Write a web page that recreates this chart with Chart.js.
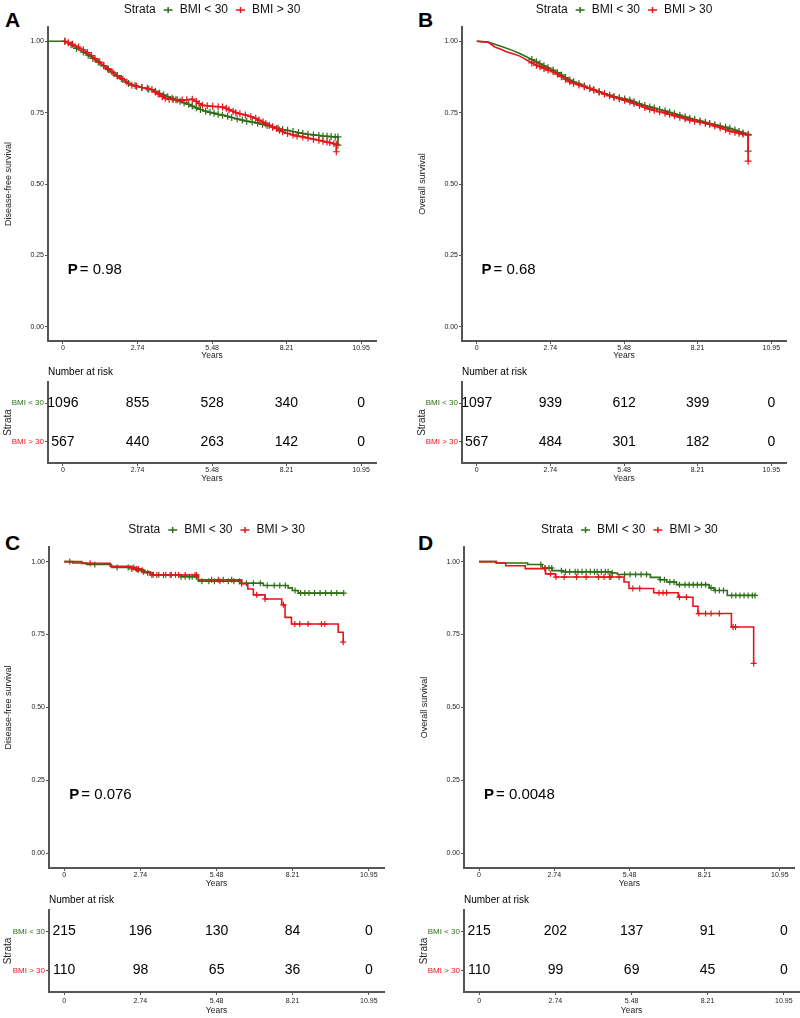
<!DOCTYPE html>
<html>
<head>
<meta charset="utf-8">
<script src="https://cdn.jsdelivr.net/npm/chart.js@4.4.1/dist/chart.umd.min.js"></script>
<style>
  body { margin: 0; background: #fff; width: 800px; height: 1018px; position: relative; overflow: hidden;
         font-family: 'Liberation Sans', Arial, Helvetica, sans-serif; }
  canvas { position: absolute; }
  .letter { position: absolute; font-weight: bold; font-size: 21px; line-height: 21px; color: #000; }
</style>
</head>
<body>
<div class="letter" style="left:5px;top:9px">A</div>
<div class="letter" style="left:418px;top:9px">B</div>
<div class="letter" style="left:5px;top:532px">C</div>
<div class="letter" style="left:418px;top:532px">D</div>
<script>
// ---- data ----
const xTicks = [0, 2.74, 5.48, 8.21, 10.95];
const xTickLabels = ['0', '2.74', '5.48', '8.21', '10.95'];
const yTicks = [0, 0.25, 0.5, 0.75, 1];
const yTickLabels = ['0.00', '0.25', '0.50', '0.75', '1.00'];
const strata = ['BMI < 30', 'BMI > 30'];
const yTitles = ['Disease-free survival', 'Overall survival', 'Disease-free survival', 'Overall survival'];
const pValues = ['0.98', '0.68', '0.076', '0.0048'];

// A: disease-free survival, whole cohort
const curveA_lo = [[-0.55,1.0],[0.07,1.0],[0.3,0.988],[0.5,0.975],[0.75,0.962],[0.93,0.951],[1.1,0.94],[1.3,0.927],[1.5,0.914],[1.67,0.901],[1.85,0.889],[2.0,0.878],[2.2,0.866],[2.41,0.852],[2.65,0.845],[2.9,0.838],[3.15,0.832],[3.39,0.825],[3.55,0.818],[3.7,0.812],[3.85,0.806],[4.01,0.80],[4.15,0.795],[4.3,0.79],[4.45,0.785],[4.62,0.779],[4.75,0.773],[4.9,0.767],[5.05,0.761],[5.24,0.755],[5.4,0.751],[5.55,0.748],[5.7,0.744],[5.86,0.741],[6.05,0.737],[6.2,0.733],[6.4,0.728],[6.59,0.724],[6.75,0.72],[6.95,0.717],[7.15,0.713],[7.33,0.709],[7.5,0.705],[7.7,0.70],[7.9,0.695],[8.07,0.691],[8.25,0.688],[8.45,0.684],[8.65,0.68],[8.81,0.677],[9.0,0.674],[9.2,0.672],[9.4,0.67],[9.55,0.668],[9.7,0.667],[9.85,0.666],[10.0,0.665],[10.1,0.665],[10.1,0.636]];
const curveA_hi = [[0.07,1.0],[0.2,0.995],[0.35,0.99],[0.57,0.98],[0.75,0.97],[0.9,0.96],[1.05,0.95],[1.18,0.939],[1.35,0.927],[1.5,0.915],[1.65,0.904],[1.8,0.893],[2.0,0.88],[2.15,0.87],[2.35,0.857],[2.53,0.846],[2.7,0.842],[2.9,0.838],[3.1,0.835],[3.27,0.831],[3.4,0.822],[3.5,0.815],[3.65,0.806],[3.76,0.80],[3.9,0.797],[4.05,0.796],[4.2,0.795],[4.38,0.794],[4.55,0.795],[4.75,0.797],[4.9,0.789],[5.0,0.782],[5.12,0.776],[5.3,0.774],[5.5,0.772],[5.7,0.771],[5.86,0.770],[6.0,0.765],[6.1,0.76],[6.25,0.755],[6.35,0.75],[6.5,0.746],[6.7,0.742],[6.9,0.736],[7.08,0.73],[7.2,0.724],[7.35,0.717],[7.45,0.711],[7.58,0.706],[7.7,0.70],[7.85,0.694],[7.95,0.688],[8.07,0.683],[8.25,0.677],[8.45,0.672],[8.6,0.668],[8.81,0.665],[9.0,0.661],[9.2,0.657],[9.4,0.653],[9.55,0.65],[9.7,0.647],[9.8,0.645],[9.95,0.641],[10.04,0.639],[10.04,0.613]];

// B: overall survival, whole cohort
const curveB_lo = [[0,1.0],[0.42,0.997],[0.7,0.989],[0.98,0.98],[1.3,0.969],[1.6,0.957],[1.9,0.943],[2.05,0.936],[2.22,0.928],[2.35,0.921],[2.5,0.914],[2.65,0.907],[2.84,0.899],[3.0,0.89],[3.15,0.882],[3.3,0.873],[3.46,0.864],[3.6,0.858],[3.8,0.851],[4.0,0.843],[4.2,0.835],[4.35,0.83],[4.55,0.823],[4.75,0.817],[4.94,0.811],[5.1,0.806],[5.3,0.802],[5.5,0.798],[5.69,0.794],[5.85,0.788],[6.05,0.781],[6.25,0.775],[6.43,0.77],[6.6,0.766],[6.8,0.761],[7.0,0.756],[7.17,0.751],[7.35,0.746],[7.55,0.741],[7.75,0.735],[7.92,0.73],[8.1,0.726],[8.3,0.721],[8.5,0.716],[8.66,0.712],[8.85,0.708],[9.05,0.703],[9.25,0.699],[9.41,0.695],[9.6,0.689],[9.75,0.684],[9.9,0.679],[10.09,0.674],[10.09,0.615]];
const curveB_hi = [[0,1.0],[0.42,0.997],[0.67,0.98],[0.9,0.972],[1.1,0.963],[1.35,0.956],[1.6,0.948],[1.75,0.94],[1.9,0.932],[2.05,0.924],[2.22,0.916],[2.35,0.911],[2.5,0.905],[2.65,0.899],[2.84,0.893],[3.0,0.885],[3.15,0.876],[3.3,0.867],[3.46,0.858],[3.6,0.853],[3.8,0.847],[4.0,0.841],[4.2,0.835],[4.35,0.829],[4.55,0.822],[4.75,0.815],[4.94,0.809],[5.1,0.804],[5.3,0.799],[5.5,0.793],[5.69,0.788],[5.85,0.782],[6.05,0.775],[6.25,0.768],[6.43,0.762],[6.6,0.758],[6.8,0.753],[7.0,0.749],[7.17,0.744],[7.35,0.739],[7.55,0.734],[7.75,0.729],[7.92,0.724],[8.1,0.72],[8.3,0.717],[8.5,0.713],[8.66,0.709],[8.85,0.703],[9.05,0.697],[9.25,0.691],[9.41,0.685],[9.6,0.681],[9.75,0.678],[9.9,0.675],[10.09,0.671],[10.09,0.58]];

// C: disease-free survival, subgroup (step curves + censor times)
const curveC_lo = [[0,1.0],[0.3,0.995],[0.8,0.99],[1.7,0.98],[2.6,0.97],[2.9,0.962],[3.2,0.955],[4.2,0.948],[4.82,0.933],[6.32,0.926],[7.16,0.918],[8.05,0.91],[8.2,0.901],[8.41,0.892],[10.05,0.892]];
const curveC_hi = [[0,1.0],[0.63,0.994],[1.65,0.984],[2.43,0.975],[2.8,0.965],[3.09,0.954],[4.82,0.938],[6.38,0.924],[6.6,0.906],[6.8,0.886],[7.22,0.872],[7.82,0.852],[7.94,0.809],[8.17,0.786],[9.85,0.758],[10.03,0.724]];
const censC_lo = [0.2,1.1,1.9,2.3,2.5,2.65,2.8,3.0,3.2,3.4,3.65,3.85,4.0,4.2,4.35,4.5,4.6,4.75,4.95,5.2,5.4,5.6,5.9,6.1,6.3,6.55,6.8,7.05,7.3,7.55,7.75,7.95,8.3,8.5,8.65,8.8,9.0,9.2,9.4,9.6,9.8,10.05];
const censC_hi = [0.93,2.43,2.6,2.67,2.85,3.15,3.33,3.57,3.81,4.11,4.35,4.7,4.76,5.3,5.54,5.72,6.02,6.38,6.92,7.22,7.88,8.29,8.47,8.77,9.25,9.37,10.03];

// D: overall survival, subgroup
const curveD_lo = [[0,1.0],[0.63,0.995],[1.77,0.99],[2.3,0.978],[2.66,0.969],[3.02,0.965],[4.81,0.961],[5.04,0.956],[6.24,0.946],[6.59,0.938],[6.83,0.93],[7.19,0.921],[8.38,0.91],[8.56,0.901],[9.04,0.884],[10.05,0.884]];
const curveD_hi = [[0,1.0],[0.63,0.995],[0.97,0.986],[1.68,0.976],[2.42,0.958],[2.78,0.947],[5.28,0.93],[5.46,0.908],[6.36,0.893],[7.25,0.878],[7.79,0.847],[7.97,0.822],[9.19,0.776],[10.0,0.651]];
const censD_lo = [2.25,2.4,2.55,2.65,3.0,3.15,3.3,3.5,3.6,3.75,3.9,4.05,4.2,4.3,4.45,4.6,4.7,4.85,5.3,5.5,5.7,5.9,6.1,6.6,6.75,6.95,7.1,7.3,7.5,7.65,7.8,7.95,8.1,8.25,8.45,8.6,8.75,8.9,9.2,9.35,9.5,9.65,9.8,9.95,10.05];
const censD_hi = [2.4,2.6,2.8,3.1,3.55,3.9,4.35,4.55,4.75,4.8,5.1,5.6,5.85,6.55,6.7,6.83,7.3,7.55,8.0,8.25,8.45,8.75,9.25,9.34,10.0];

// number at risk tables
const riskA_lo = [1096, 855, 528, 340, 0];
const riskA_hi = [567, 440, 263, 142, 0];
const riskB_lo = [1097, 939, 612, 399, 0];
const riskB_hi = [567, 484, 301, 182, 0];
const riskC_lo = [215, 196, 130, 84, 0];
const riskC_hi = [110, 98, 65, 36, 0];
const riskD_lo = [215, 202, 137, 91, 0];
const riskD_hi = [110, 99, 69, 45, 0];

// ---- layout (page pixels) ----
const kmBoxes = [
  {left: 0,   top: 0,   w: 400, h: 362, l: 48,  t: 27,  r: 376, b: 341},
  {left: 414, top: 0,   w: 386, h: 362, l: 462, t: 27,  r: 786, b: 341},
  {left: 0,   top: 510, w: 400, h: 380, l: 49,  t: 547, r: 384, b: 868},
  {left: 416, top: 510, w: 384, h: 380, l: 464, t: 547, r: 799, b: 868}
];
const riskBoxes = [
  {left: 0,   top: 362, w: 400, h: 123, l: 48,  t: 382, r: 376, b: 463, tickPad: 0, titlePad: 1},
  {left: 414, top: 362, w: 386, h: 123, l: 462, t: 382, r: 786, b: 463, tickPad: 0, titlePad: 1},
  {left: 0,   top: 880, w: 400, h: 138, l: 49,  t: 910, r: 384, b: 992, tickPad: 2, titlePad: 2},
  {left: 416, top: 880, w: 384, h: 138, l: 464, t: 910, r: 799, b: 992, tickPad: 2, titlePad: 2}
];

const FAMILY = "'Liberation Sans', Arial, Helvetica, sans-serif";
const GREEN = '#2d6f17';
const RED = '#e8141b';
const AXIS = '#555';
Chart.defaults.font.family = FAMILY;
Chart.defaults.color = '#222';
Chart.defaults.animation = false;

function place(L) {
  const c = document.createElement('canvas');
  c.width = L.w; c.height = L.h;
  c.style.left = L.left + 'px'; c.style.top = L.top + 'px';
  c.style.width = L.w + 'px'; c.style.height = L.h + 'px';
  document.body.appendChild(c);
  return c;
}

function xAxis(L, tickPad, titlePad) {
  return {
    type: 'linear', min: -0.5475, max: 11.4975,
    afterBuildTicks: s => { s.ticks = xTicks.map(v => ({value: v})); },
    afterFit: s => { s.height = L.top + L.h - L.b; },
    ticks: {callback: (v, i) => xTickLabels[i], autoSkip: false, maxRotation: 0,
            font: {size: 7}, padding: tickPad, color: '#222'},
    grid: {drawOnChartArea: false, drawTicks: true, tickLength: 3, color: AXIS},
    border: {display: true, color: AXIS, width: 2},
    title: {display: true, text: 'Years', font: {size: 8.5}, color: '#222', padding: {top: 0, bottom: titlePad}}
  };
}

// KM value at time t (last step at or before t)
function survAt(curve, t) {
  let s = curve[0][1];
  curve.forEach(p => { if (p[0] <= t) s = p[1]; });
  return s;
}

function drawKey(ctx, x, y, color) {
  ctx.strokeStyle = color; ctx.lineWidth = 1.5;
  ctx.beginPath();
  ctx.moveTo(x, y); ctx.lineTo(x + 9, y);
  ctx.moveTo(x + 4.5, y - 3); ctx.lineTo(x + 4.5, y + 3);
  ctx.stroke();
}

const kmDecor = {
  id: 'kmDecor',
  afterDraw(chart, args, opts) {
    const {ctx, chartArea: a, scales: {x, y}} = chart;
    ctx.save();
    ctx.font = '12px ' + FAMILY;
    ctx.textBaseline = 'middle';
    ctx.textAlign = 'left';
    ctx.fillStyle = '#111';
    const ly = a.top - 17;
    const wS = ctx.measureText('Strata').width;
    const w1 = ctx.measureText(strata[0]).width;
    const w2 = ctx.measureText(strata[1]).width;
    const total = wS + 8 + 9 + 7 + w1 + 8 + 9 + 7 + w2;
    let cx = (a.left + a.right) / 2 - total / 2;
    ctx.fillText('Strata', cx, ly); cx += wS + 8;
    drawKey(ctx, cx, ly, GREEN); cx += 9 + 7;
    ctx.fillText(strata[0], cx, ly); cx += w1 + 8;
    drawKey(ctx, cx, ly, RED); cx += 9 + 7;
    ctx.fillText(strata[1], cx, ly);

    // p value
    const px = x.getPixelForValue(0.18), py = y.getPixelForValue(0.2);
    ctx.fillStyle = '#000';
    ctx.font = 'bold 15px ' + FAMILY;
    ctx.fillText('P', px, py);
    const wp = ctx.measureText('P').width;
    ctx.font = '15px ' + FAMILY;
    ctx.fillText('= ' + opts.p, px + wp + 2, py);
    ctx.restore();
  }
};

function kmChart(idx, lo, hi, censLo, censHi, marksFrom) {
  const L = kmBoxes[idx];
  const cv = place(L);
  const pts = c => c.map(p => ({x: p[0], y: p[1]}));
  const datasets = [];
  const lineDs = (curve, color) => ({
    data: pts(curve), borderColor: color, backgroundColor: color, borderWidth: 1.6,
    stepped: censLo ? 'before' : false, fill: false, tension: 0,
    pointStyle: 'cross', pointBorderColor: color, pointBorderWidth: 1.2,
    pointRadius: censLo ? 0 : (c => (c.raw && c.raw.x >= marksFrom) ? 3.5 : 0)
  });
  const censDs = (curve, times, color) => ({
    data: times.map(t => ({x: t, y: survAt(curve, t)})), showLine: false,
    pointStyle: 'cross', pointRadius: 3, pointBorderWidth: 1.2,
    pointBorderColor: color, borderColor: color, backgroundColor: color
  });
  // red drawn on top (first dataset is painted last)
  if (censHi) datasets.push(censDs(hi, censHi, RED));
  datasets.push(lineDs(hi, RED));
  if (censLo) datasets.push(censDs(lo, censLo, GREEN));
  datasets.push(lineDs(lo, GREEN));

  new Chart(cv, {
    type: 'line',
    data: {datasets},
    options: {
      responsive: false, devicePixelRatio: 1, animation: false,
      layout: {padding: {left: 0, top: L.t - L.top, right: L.left + L.w - L.r, bottom: 0}},
      plugins: {legend: {display: false}, tooltip: {enabled: false}, kmDecor: {p: pValues[idx]}},
      scales: {
        x: xAxis(L, 0, 1),
        y: {
          type: 'linear', min: -0.05, max: 1.05,
          afterBuildTicks: s => { s.ticks = yTicks.map(v => ({value: v})); },
          afterFit: s => { s.width = L.l - L.left; },
          ticks: {callback: (v, i) => yTickLabels[i], font: {size: 7}, padding: 1, color: '#222'},
          grid: {drawOnChartArea: false, drawTicks: true, tickLength: 3, color: AXIS},
          border: {display: true, color: AXIS, width: 2},
          title: {display: true, text: yTitles[idx], font: {size: 9}, color: '#222', padding: {top: 3, bottom: 0}}
        }
      }
    },
    plugins: [kmDecor]
  });
}

const riskText = {
  id: 'riskText',
  afterDatasetsDraw(chart) {
    const {ctx, chartArea: a} = chart;
    ctx.save();
    ctx.fillStyle = '#000';
    ctx.font = '14px ' + FAMILY;
    ctx.textAlign = 'center';
    ctx.textBaseline = 'middle';
    chart.data.datasets.forEach((ds, di) => {
      chart.getDatasetMeta(di).data.forEach((el, k) => {
        ctx.fillText(String(ds.counts[k]), el.x, el.y);
      });
    });
    ctx.font = '10px ' + FAMILY;
    ctx.textAlign = 'left';
    ctx.fillText('Number at risk', a.left, a.top - 10);
    ctx.restore();
  }
};

function riskChart(idx, lo, hi) {
  const L = riskBoxes[idx];
  const cv = place(L);
  new Chart(cv, {
    type: 'scatter',
    data: {
      datasets: [
        {counts: lo, data: xTicks.map(x => ({x, y: 2})), pointRadius: 0},
        {counts: hi, data: xTicks.map(x => ({x, y: 1})), pointRadius: 0}
      ]
    },
    options: {
      responsive: false, devicePixelRatio: 1, animation: false,
      layout: {padding: {left: 0, top: L.t - L.top, right: L.left + L.w - L.r, bottom: 0}},
      plugins: {legend: {display: false}, tooltip: {enabled: false}},
      scales: {
        x: xAxis(L, L.tickPad, L.titlePad),
        y: {
          type: 'linear', min: 0.45, max: 2.55,
          afterBuildTicks: s => { s.ticks = [{value: 1}, {value: 2}]; },
          afterFit: s => { s.width = L.l - L.left; },
          ticks: {callback: v => (v === 2 ? strata[0] : strata[1]), font: {size: 8}, padding: 1,
                  color: c => (c.tick && c.tick.value === 2 ? GREEN : RED)},
          grid: {drawOnChartArea: false, drawTicks: true, tickLength: 3, color: AXIS},
          border: {display: true, color: AXIS, width: 2},
          title: {display: true, text: 'Strata', font: {size: 10}, color: '#222', padding: {top: 2, bottom: 0}}
        }
      }
    },
    plugins: [riskText]
  });
}

kmChart(0, curveA_lo, curveA_hi, null, null, 0.05);
kmChart(1, curveB_lo, curveB_hi, null, null, 2.0);
kmChart(2, curveC_lo, curveC_hi, censC_lo, censC_hi, 0);
kmChart(3, curveD_lo, curveD_hi, censD_lo, censD_hi, 0);
riskChart(0, riskA_lo, riskA_hi);
riskChart(1, riskB_lo, riskB_hi);
riskChart(2, riskC_lo, riskC_hi);
riskChart(3, riskD_lo, riskD_hi);
</script>
</body>
</html>
